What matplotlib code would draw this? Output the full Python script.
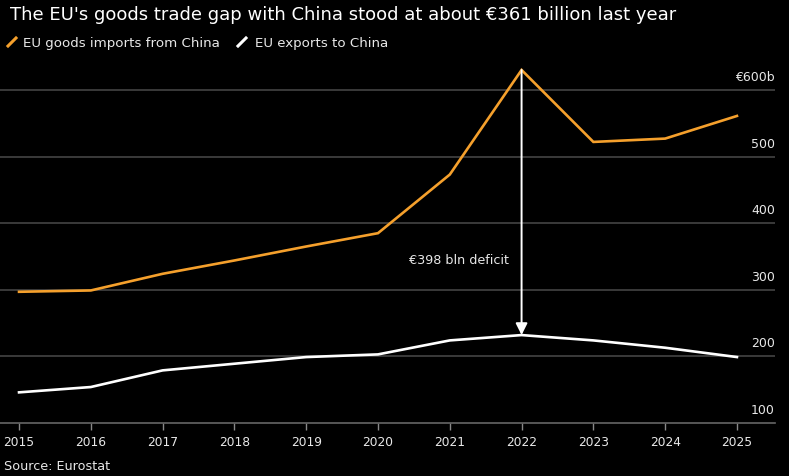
import numpy as np
import matplotlib.pyplot as plt
from matplotlib.lines import Line2D
from matplotlib.transforms import blended_transform_factory

# data (EUR billion)
years = [2015, 2016, 2017, 2018, 2019, 2020, 2021, 2022, 2023, 2024, 2025]
imports_from_china = [297, 299, 324, 344, 365, 385, 473, 630, 522, 527, 561]
exports_to_china = [146, 154, 179, 189, 199, 203, 224, 232, 224, 213, 199]
ytick_vals = [100, 200, 300, 400, 500, 600]
ytick_labels = ["100", "200", "300", "400", "500", "€600b"]
deficit_year = 2022
deficit_label = "€398 bln deficit"

ORANGE = "#F5A02C"
WHITE = "#FFFFFF"
GRID = "#444444"
TXT = "#E8E8E8"

plt.rcParams["font.family"] = ["DejaVu Sans"]

W, H = 789, 477
fig = plt.figure(figsize=(W / 100, H / 100), dpi=100, facecolor="black")
ax = fig.add_axes([0, 1 - 424 / H, 775 / W, (424 - 57) / H])
ax.set_facecolor("black")

ax.plot(years, imports_from_china, color=ORANGE, lw=1.9, solid_joinstyle="miter")
ax.plot(years, exports_to_china, color=WHITE, lw=1.9, solid_joinstyle="miter")

ax.set_xlim(2014.735, 2025.53)
ax.set_ylim(100, 651)

# gridlines + right-side labels sitting above them
for v in ytick_vals[1:]:
    ax.axhline(v, color=GRID, lw=1.2, zorder=0)
trans = blended_transform_factory(ax.transAxes, ax.transData)
for v, lab in zip(ytick_vals, ytick_labels):
    ax.annotate(lab, xy=(1.0, v), xycoords=trans, xytext=(0, 5),
                textcoords="offset points", ha="right", va="bottom",
                color=TXT, fontsize=9)

ax.set_yticks([])
ax.set_xticks(years)
ax.set_xticklabels([str(y) for y in years])
ax.tick_params(axis="x", colors="#888888", labelcolor=TXT, labelsize=8.8,
               length=5, width=1, direction="out", pad=4)
for s in ["top", "right", "left"]:
    ax.spines[s].set_visible(False)
ax.spines["bottom"].set_color("#666666")
ax.spines["bottom"].set_linewidth(1.2)

# deficit arrow
i = years.index(deficit_year)
ax.annotate("", xy=(deficit_year, exports_to_china[i]),
            xytext=(deficit_year, imports_from_china[i]),
            arrowprops=dict(arrowstyle="-|>,head_length=0.7,head_width=0.35",
                            color=WHITE, lw=1.4, shrinkA=0, shrinkB=0))
ax.annotate(deficit_label, xy=(deficit_year, 346), xytext=(-9, 0),
            textcoords="offset points", ha="right", va="center",
            color=TXT, fontsize=9.2)

# title, legend, source
fig.text(10 / W, 1 - 15 / H, "The EU's goods trade gap with China stood at about €361 billion last year",
         color=WHITE, fontsize=13.0, ha="left", va="center")

fig.add_artist(Line2D([8 / W, 16 / W], [1 - 47 / H, 1 - 39 / H], color=ORANGE, lw=2.2))
fig.text(23 / W, 1 - 43 / H, "EU goods imports from China", color=TXT, fontsize=9.6,
         ha="left", va="center")
fig.add_artist(Line2D([238 / W, 246 / W], [1 - 47 / H, 1 - 39 / H], color=WHITE, lw=2.2))
fig.text(255 / W, 1 - 43 / H, "EU exports to China", color=TXT, fontsize=9.6,
         ha="left", va="center")

fig.text(4 / W, 1 - 467 / H, "Source: Eurostat", color=TXT, fontsize=9.2,
         ha="left", va="center")

fig.savefig("out.png", dpi=100, facecolor="black")
